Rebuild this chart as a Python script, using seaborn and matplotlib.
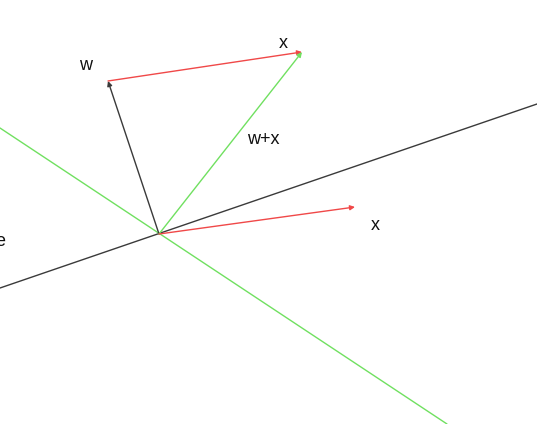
import matplotlib
matplotlib.use("Agg")
import matplotlib.pyplot as plt
import seaborn as sns
import pandas as pd

# picture coordinates (pixels, y grows downward)
origin = (159, 234)
w_tip = (108, 81)
x_tip = (302, 52)         # w + x
x_alone_tip = (355, 207)  # x drawn from the origin

# the two long lines through the origin
black_line_x = [0, 537]
black_line_y = [288, 104]
green_line_x = [0, 447]
green_line_y = [128, 424]

labels = ["w", "x", "w+x", "x", "e"]
label_x = [86, 283, 263, 375, 0]
label_y = [65, 44, 139, 226, 242]

red = "#f04848"
green = "#70e060"
dark = "#3a3a3a"

sns.set_theme(style="white")
plt.rcParams['font.family'] = ['Liberation Sans', 'DejaVu Sans']

fig = plt.figure(figsize=(5.37, 4.24), dpi=100)
ax = fig.add_axes([0, 0, 1, 1])

lines = pd.DataFrame({
    "x": black_line_x + green_line_x,
    "y": black_line_y + green_line_y,
    "which": ["black", "black", "green", "green"],
})
sns.lineplot(data=lines, x="x", y="y", hue="which", units="which", estimator=None,
             palette={"black": dark, "green": green}, linewidth=1.0, legend=False,
             sort=False, ax=ax)

def vector(start, end, color):
    ax.annotate("", xy=end, xytext=start,
                arrowprops=dict(arrowstyle="-|>", color=color, lw=1.0,
                                mutation_scale=7, shrinkA=0, shrinkB=0))

vector(origin, w_tip, dark)
vector(w_tip, x_tip, red)
vector(origin, x_tip, green)
vector(origin, x_alone_tip, red)

for lab, lx, ly in zip(labels, label_x, label_y):
    ax.text(lx, ly, lab, fontsize=13, color="#111111", ha="center", va="center")

ax.set_xlim(0, 537)
ax.set_ylim(424, 0)
ax.axis("off")

fig.savefig("out.png", dpi=100)
